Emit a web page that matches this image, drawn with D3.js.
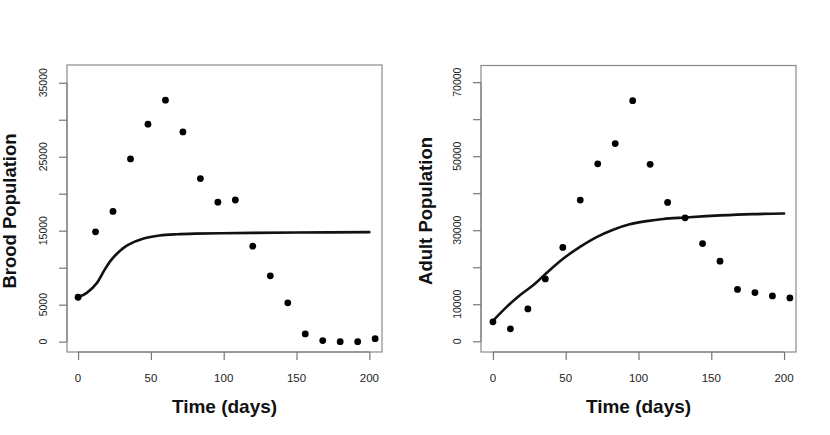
<!DOCTYPE html>
<html>
<head>
<meta charset="utf-8">
<script src="https://cdn.jsdelivr.net/npm/d3@7"></script>
<style>
  html, body { margin: 0; padding: 0; background: #fff; }
  svg { display: block; }
</style>
</head>
<body>
<svg id="chart" width="830" height="435"></svg>
<script>
// ---- Data ----
const days = [0, 12, 24, 36, 48, 60, 72, 84, 96, 108, 120, 132, 144, 156, 168, 180, 192, 204];
const broodObserved = [6000, 14850, 17600, 24700, 29400, 32650, 28350, 22050, 18850, 19150, 12900, 8900, 5250, 1050, 150, 0, 0, 400];
const adultObserved = [5250, 3350, 8750, 16850, 25350, 38150, 47950, 53400, 65000, 47800, 37500, 33350, 26400, 21650, 14000, 13150, 12250, 11700];

const broodFitDays = [0, 6, 13, 17.6, 22, 27, 34, 45, 56, 68, 80, 98, 120, 150, 200];
const broodFit = [6000, 6600, 7950, 9500, 10850, 11950, 13050, 13950, 14350, 14520, 14600, 14650, 14700, 14750, 14800];

const adultFitDays = [0, 9.6, 18.7, 27.8, 37, 48.4, 59.8, 71.2, 82.6, 94, 105.5, 117, 132, 156, 178, 200];
const adultFit = [5500, 9350, 12500, 15200, 18500, 22350, 25500, 28150, 30150, 31600, 32450, 33050, 33450, 34000, 34350, 34500];

const xTicks = [0, 50, 100, 150, 200];
const broodYTicks = [0, 5000, 10000, 15000, 20000, 25000, 30000, 35000];
const broodYLabels = [0, 5000, 15000, 25000, 35000];
const adultYTicks = [0, 10000, 20000, 30000, 40000, 50000, 60000, 70000];
const adultYLabels = [0, 10000, 30000, 50000, 70000];

const xTitle = "Time (days)";
const broodTitle = "Brood Population";
const adultTitle = "Adult Population";

// ---- Panels ----
const panels = [
  {
    box: { left: 67, right: 382, top: 65, bottom: 352 },
    xDomain: [-7.6, 208.7], yDomain: [-1400, 37400],
    obs: broodObserved, fitX: broodFitDays, fitY: broodFit,
    yTicks: broodYTicks, yLabels: broodYLabels, yTitle: broodTitle, yTitleX: 15.5
  },
  {
    box: { left: 481, right: 796, top: 65.5, bottom: 352 },
    xDomain: [-8.2, 208.2], yDomain: [-2900, 74500],
    obs: adultObserved, fitX: adultFitDays, fitY: adultFit,
    yTicks: adultYTicks, yLabels: adultYLabels, yTitle: adultTitle, yTitleX: 431.5
  }
];

const svg = d3.select("#chart");
const boxColor = "#8a8a8a";
const tickColor = "#777";
const labelColor = "#222";
const fontFamily = "'Liberation Sans', Arial, Helvetica, sans-serif";

panels.forEach(p => {
  const b = p.box;
  const x = d3.scaleLinear().domain(p.xDomain).range([b.left, b.right]);
  const y = d3.scaleLinear().domain(p.yDomain).range([b.bottom, b.top]);
  const g = svg.append("g");

  // plot box
  g.append("rect")
    .attr("x", b.left).attr("y", b.top)
    .attr("width", b.right - b.left).attr("height", b.bottom - b.top)
    .attr("fill", "none").attr("stroke", boxColor).attr("stroke-width", 1.2);

  // x axis
  const xAxis = d3.axisBottom(x).tickValues(xTicks).tickSize(8).tickFormat("");
  const xg = g.append("g").attr("transform", `translate(0,${b.bottom})`).call(xAxis);
  xg.select(".domain").attr("stroke", tickColor).attr("d", `M${x(xTicks[0])},0H${x(xTicks[xTicks.length-1])}`);
  xg.selectAll(".tick line").attr("stroke", tickColor).attr("stroke-width", 1.2);
  g.selectAll(".xlab").data(xTicks).enter().append("text")
    .attr("x", d => x(d)).attr("y", 382)
    .attr("text-anchor", "middle")
    .attr("font-family", fontFamily).attr("font-size", 11.5)
    .attr("fill", labelColor)
    .text(d => d);

  // y axis
  const yAxis = d3.axisLeft(y).tickValues(p.yTicks).tickSize(8).tickFormat("");
  const yg = g.append("g").attr("transform", `translate(${b.left},0)`).call(yAxis);
  yg.select(".domain").attr("stroke", tickColor).attr("d", `M0,${y(p.yTicks[0])}V${y(p.yTicks[p.yTicks.length-1])}`);
  yg.selectAll(".tick line").attr("stroke", tickColor).attr("stroke-width", 1.2);
  g.selectAll(".ylab").data(p.yLabels).enter().append("text")
    .attr("transform", d => `translate(${b.left - 24.5},${y(d)}) rotate(-90)`)
    .attr("text-anchor", "middle").attr("dominant-baseline", "central")
    .attr("font-family", fontFamily).attr("font-size", 10.5)
    .attr("fill", labelColor)
    .text(d => d);

  // titles
  g.append("text")
    .attr("x", (b.left + b.right) / 2).attr("y", 413)
    .attr("text-anchor", "middle")
    .attr("font-family", fontFamily).attr("font-weight", "bold").attr("font-size", 19)
    .attr("fill", "#111")
    .text(xTitle);
  g.append("text")
    .attr("transform", `translate(${p.yTitleX},211) rotate(-90)`)
    .attr("text-anchor", "middle")
    .attr("font-family", fontFamily).attr("font-weight", "bold").attr("font-size", 18.5)
    .attr("fill", "#111")
    .text(p.yTitle);

  // fitted curve
  const line = d3.line()
    .x((d, i) => x(p.fitX[i]))
    .y(d => y(d))
    .curve(d3.curveCatmullRom.alpha(0.5));
  g.append("path")
    .datum(p.fitY)
    .attr("d", line)
    .attr("fill", "none").attr("stroke", "#111").attr("stroke-width", 2.6)
    .attr("stroke-linecap", "round").attr("stroke-linejoin", "round");

  // observed points
  g.selectAll(".pt").data(p.obs).enter().append("circle")
    .attr("cx", (d, i) => x(days[i]))
    .attr("cy", d => y(d))
    .attr("r", 3.4)
    .attr("fill", "#000");
});
</script>
</body>
</html>
